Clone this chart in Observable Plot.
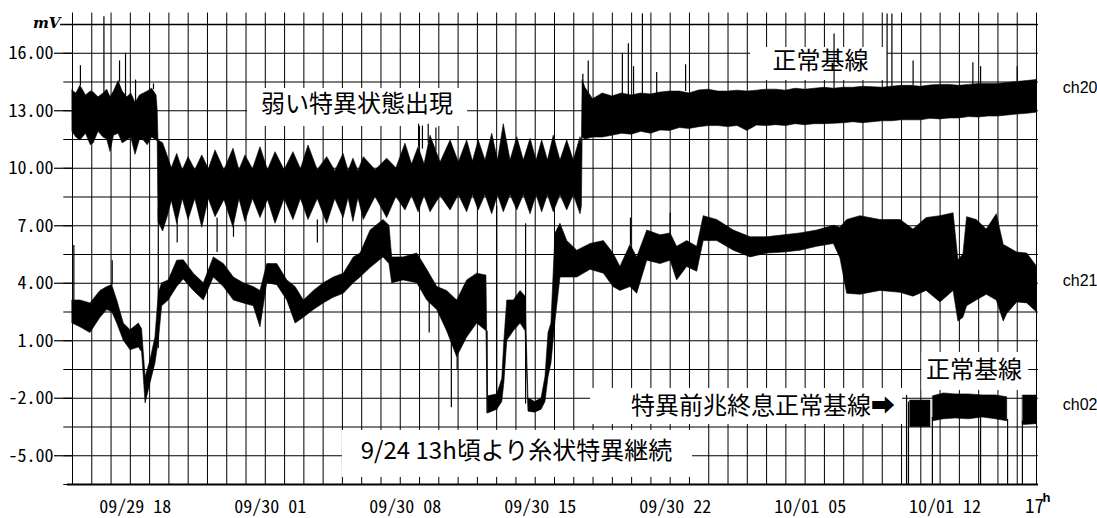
<!DOCTYPE html>
<html><head><meta charset="utf-8">
<script src="https://cdn.jsdelivr.net/npm/d3@7"></script>
<script src="https://cdn.jsdelivr.net/npm/@observablehq/plot@0.6"></script>
<style>
html,body{margin:0;padding:0;background:#fff;}
#chart svg{display:block;}
</style></head><body><div id="chart"></div>
<script>
// time in hours from 09/29 15:00 ; values in mV  [hour, low, high]
const ch20 = [
 [0,11.9,14.05],[0.2,11.6,13.9],[0.41,11.45,14.3],[0.7,11.8,13.8],[0.95,11.2,14.0],[1.1,11.3,13.95],
 [1.35,11.9,13.7],[1.61,11.6,13.9],[1.8,11.5,14.1],[1.97,10.85,13.7],[2.15,11.7,14.0],[2.39,11.8,14.55],
 [2.6,11.3,14.0],[2.84,11.45,13.7],[3.05,11.6,13.9],[3.27,10.7,13.4],[3.5,11.5,13.8],[3.7,11.45,13.9],
 [3.9,11.2,14.0],[4.13,11.6,14.15],[4.36,11.45,13.8],[4.42,11.4,13.0],
 [4.46,7.2,11.45],[4.7,6.7,11.3],[4.95,7.5,10.6],[5.15,8.3,10.0],
 [5.43,7.1,10.75],[5.72,8.4,9.9],[6.02,7.3,10.58],[6.37,8.4,9.9],[6.73,6.9,10.67],[7.07,8.4,9.95],
 [7.42,7.45,10.93],[7.88,8.35,9.9],[8.35,6.9,11.02],[8.66,8.4,9.9],[8.97,7.2,10.67],[9.36,8.4,9.95],
 [9.75,7.4,11.1],[10.14,8.35,9.9],[10.53,7.1,10.84],[11.0,8.4,9.9],[11.46,7.3,10.84],[11.85,8.4,9.95],
 [12.24,7.3,11.19],[12.72,8.4,9.9],[13.21,7.1,10.58],[13.63,8.4,9.85],[14.06,7.4,10.75],[14.32,8.45,9.85],
 [14.57,7.2,10.5],[14.83,8.45,9.85],[15.11,7.3,10.58],[15.72,8.5,9.9],[16.32,7.4,10.5],[16.8,8.5,10.0],
 [17.27,7.8,11.28],[17.61,8.55,10.2],[17.95,7.7,11.1],[18.26,8.55,10.2],[18.57,7.7,11.7],[19.09,8.55,10.3],
 [19.61,7.8,11.45],[20.04,8.6,10.3],[20.47,7.7,11.45],[20.77,8.6,10.35],[21.07,7.8,11.45],[21.42,8.6,10.4],
 [21.77,7.6,11.8],[22.07,8.6,10.4],[22.37,7.7,12.3],[22.72,8.6,10.4],[23.07,7.8,11.62],[23.41,8.6,10.4],
 [23.76,7.6,11.54],[24.07,8.6,10.4],[24.36,7.7,11.45],[24.66,8.6,10.4],[24.96,7.7,11.7],[25.31,8.6,10.4],
 [25.66,7.8,11.45],[26.0,8.6,10.4],[26.35,7.6,11.62],[26.42,8.0,11.2],
 [26.46,11.6,14.6],[26.6,11.5,14.2],[27,11.6,13.6],[27.5,11.6,13.9],[28,11.7,13.75],[28.5,11.8,13.9],
 [29,11.75,13.8],[29.5,11.9,13.9],[30,11.8,13.85],[30.5,11.97,13.95],[31,11.95,14.0],[31.5,12.1,14.0],
 [32,12.05,13.9],[32.5,12.14,14.06],[33,12.2,14.1],[33.5,12.2,14.0],[34,12.15,14.0],[34.5,12.2,14.05],
 [35,11.95,14.0],[35.5,12.23,14.05],[36,12.2,14.1],[36.5,12.25,14.1],[37,12.2,14.05],[37.5,12.3,14.15],
 [38,12.25,14.1],[38.5,12.3,14.15],[39,12.3,14.2],[39.5,12.32,14.15],[40,12.35,14.2],[40.5,12.4,14.2],
 [41,12.35,14.25],[41.5,12.4,14.23],[42,12.45,14.2],[42.5,12.45,14.25],[43,12.5,14.3],[43.5,12.5,14.3],
 [44,12.5,14.25],[44.5,12.58,14.32],[45,12.55,14.35],[45.5,12.6,14.35],[46,12.6,14.3],[46.5,12.67,14.35],
 [47,12.65,14.4],[47.5,12.7,14.4],[48,12.7,14.4],[48.5,12.75,14.45],[49,12.8,14.5],[49.5,12.84,14.55],[50,12.9,14.6]
];
const ch21 = [
 [0,1.9,3.1],[0.41,1.7,3.1],[0.93,1.4,2.95],[1.45,2.2,3.6],[1.8,2.6,3.8],[2.06,2.5,3.9],[2.32,1.9,3.1],
 [2.66,1.0,1.9],[3.01,0.5,1.55],[3.44,0.65,1.9],[3.61,0.4,1.6],[3.79,-2.27,-0.9],[4.05,-1.2,0.0],
 [4.3,-0.2,1.17],[4.48,1.0,3.5],[4.65,2.8,4.0],[4.99,3.1,4.15],[5.43,3.8,5.18],[5.77,4.2,5.2],
 [6.29,3.6,4.5],[6.81,3.1,4.0],[7.33,4.3,5.35],[7.85,3.8,5.0],[8.37,3.1,4.3],[8.88,2.95,4.0],
 [9.4,2.8,3.8],[9.75,1.7,3.6],[10.1,4.0,5.0],[10.62,3.9,5.0],[11.14,3.1,4.15],[11.57,1.9,3.8],
 [12.0,2.2,3.1],[12.52,2.6,3.6],[13.03,2.95,4.0],[13.55,3.25,4.3],[14.07,3.45,4.5],[14.59,4.0,5.35],
 [14.94,4.3,5.55],[15.46,4.8,6.75],[16.13,5.35,7.3],[16.44,5.0,7.0],[16.58,4.0,5.35],[17.17,4.15,5.35],
 [17.88,4.0,5.55],[18.4,3.1,4.7],[18.92,2.6,3.8],[19.43,1.5,3.6],[19.95,0.15,3.1],[20.47,1.17,4.15],
 [20.99,1.9,4.5],[21.47,1.5,4.4],[21.55,-2.8,-1.9],[22.03,-2.6,-1.8],[22.29,-2.2,-1.0],[22.4,-1.2,1.0],
 [22.55,1.0,3.1],[22.89,1.5,3.1],[23.24,1.9,3.6],[23.5,1.5,3.3],[23.65,-2.7,-2.0],[24.0,-2.75,-2.2],
 [24.33,-2.6,-2.0],[24.53,-2.2,-0.9],[24.69,-0.9,1.4],[24.84,-0.2,1.9],[25.05,2.0,6.6],[25.31,4.3,7.1],
 [25.66,4.3,6.2],[26.18,4.3,5.7],[26.87,4.7,6.05],[27.56,4.5,6.2],[28.06,3.8,5.55],[28.42,3.6,4.85],
 [28.94,3.8,6.0],[29.29,3.45,5.35],[29.81,5.18,6.75],[30.5,5.0,6.5],[31.02,5.18,6.6],[31.36,4.15,5.9],
 [31.88,4.85,6.2],[32.4,4.6,5.9],[32.74,6.2,7.5],[33.44,6.2,7.3],[34.3,5.7,6.75],[35.17,5.35,6.4],
 [36.03,5.55,6.4],[36.9,5.6,6.5],[37.76,5.7,6.6],[38.62,5.9,6.75],[39.49,6.05,7.0],[39.83,5.3,6.9],
 [40.18,3.45,7.3],[40.87,3.4,7.5],[41.9,3.6,7.3],[42.95,3.5,7.3],[43.62,3.3,6.8],[44.3,3.6,7.4],
 [45.02,3.0,7.5],[45.7,3.6,7.65],[45.95,2.0,5.2],[46.21,2.2,5.5],[46.4,2.8,7.45],[46.9,3.1,7.3],
 [47.42,3.4,6.8],[47.94,3.1,7.6],[48.3,2.0,6.0],[48.48,2.4,5.9],[49.0,3.0,5.6],[49.52,2.95,5.55],[50,2.5,4.9]
];
const ch02Block1 = [[43.46,-3.5,-2.12],[44.5,-3.5,-2.12]];
const ch02Block2 = [[44.64,-3.2,-1.9],[45.2,-3.1,-1.75],[45.8,-3.05,-1.8],[46.5,-3.1,-1.8],[47.2,-3.0,-1.85],[47.9,-3.1,-1.85],[48.48,-3.2,-1.95]];
const ch02Block3 = [[49.3,-3.4,-1.86],[50,-3.35,-1.86]];
// isolated spikes [hour, from, to]
const ch20Spikes = [
 [0.41,14.3,15.35],[1.63,13.9,17.9],[2.44,14.5,15.6],[2.75,13.7,16.0],[3.27,13.4,14.6],[4.2,14.1,14.4],
 [4.45,0.6,7.9],[5.43,6.1,7.3],[7.5,5.6,7.4],[8.35,6.4,7.0],[12.7,6.1,7.3],
 [17.95,11.1,12.3],[18.15,11.0,12.2],[18.45,11.3,12.3],[18.85,10.9,12.1],
 [26.47,13.9,14.9],[26.75,13.6,15.6],[28.52,13.9,16.0],[28.83,13.8,16.5],[29.1,13.8,15.3],[29.56,13.9,18.05],
 [30.3,13.9,15.0],[31.8,14.0,15.4],[39.5,14.15,17.0],[42.25,14.2,18.05],[42.5,14.25,18.05],[43.6,14.3,15.6],
 [46.7,14.35,15.5],[47.1,14.4,15.3],[49.0,14.5,15.3]
];
const ch21Spikes = [
 [0.07,3.1,5.97],[2.06,3.9,5.18],[18.5,1.4,4.0],[19.65,-2.5,3.0],[19.95,-0.5,0.5],[21.5,-2.8,1.5],
 [22.0,-2.6,8.0],[23.5,-2.3,7.1],[28.94,6.0,7.4],[31.0,6.6,7.65]
];
const ch02Spikes = [[43.26,-6.5,-1.85],[43.36,-6.5,-2.2],[44.6,-6.5,-3.0],[47.1,-6.5,-3.0],[48.5,-6.5,-3.1],[49.27,-6.5,-3.2]];

const yTicks = [16, 13, 10, 7, 4, 1, -2, -5];
const xTickHours = [3, 10, 17, 24, 31, 38, 45];
const xTickLabels = ["09/29 18", "09/30 01", "09/30 08", "09/30 15", "09/30 22", "10/01 05", "10/01 12"];
const channelNames = ["ch20", "ch21", "ch02"];
const noteTexts = ["弱い特異状態出現", "正常基線", "特異前兆終息正常基線➡", "正常基線", "9/24 13h頃より糸状特異継続"];

// layout (anchors in data units)
const channelLabelAt = [14.2, 4.1, -2.35];
const noteAt = [
 {h: 14.76, v: 13.33, box: [9.08, 20.49, 12.18, 14.16]},
 {h: 38.8, v: 15.57, box: [35.17, 42.27, 14.58, 16.3]},
 {h: 35.81, v: -2.43, box: [26.87, 43.05, -3.37, -1.49]},
 {h: 46.76, v: -0.55, box: [44.06, 49.6, -1.59, 0.39]},
 {h: 23.03, v: -4.77, box: [14.0, 32.16, -6.13, -3.68]}
];

const toRows = arr => arr.map(([h, lo, hi]) => ({h, lo, hi}));
const ch02Rows = [ch02Block1, ch02Block2, ch02Block3].flatMap((b, i) => b.map(([h, lo, hi]) => ({h, lo, hi, seg: i})));
const spikeRows = [...ch20Spikes, ...ch21Spikes, ...ch02Spikes].map(([h, a, b]) => ({h, a, b}));
const notes = noteTexts.map((t, i) => ({text: t, ...noteAt[i]}));
const mono = "'Noto Sans Mono CJK JP', 'DejaVu Sans Mono', monospace";
const jp = "'Noto Sans CJK JP', sans-serif";

const chart = Plot.plot({
  width: 1097, height: 518,
  marginLeft: 72, marginRight: 61, marginTop: 12.5, marginBottom: 34,
  x: {domain: [0, 50], axis: null},
  y: {domain: [-6.5, 18.1], axis: null},
  style: {background: "white", color: "black", fontFamily: jp},
  marks: [
    Plot.ruleY(d3.range(-6.5, 17.6, 1.5), {x1: -0.45, x2: 50.1, stroke: "black", strokeWidth: 1}),
    Plot.ruleY([17.5], {x1: -0.62, x2: 50.1, stroke: "black", strokeWidth: 1.3}),
    Plot.ruleX(d3.range(0, 51), {y1: -6.5, y2: 18.1, stroke: "black", strokeWidth: 1}),
    Plot.ruleY([-6.5], {x1: -0.26, x2: 50.1, stroke: "black", strokeWidth: 2}),
    Plot.rect(notes, {x1: d => d.box[0], x2: d => d.box[1], y1: d => d.box[2], y2: d => d.box[3], fill: "white"}),
    Plot.areaY(toRows(ch20), {x: "h", y1: "lo", y2: "hi", fill: "black", stroke: "black", strokeWidth: 0.6}),
    Plot.areaY(toRows(ch21), {x: "h", y1: "lo", y2: "hi", fill: "black", stroke: "black", strokeWidth: 0.6}),
    Plot.areaY(ch02Rows, {x: "h", y1: "lo", y2: "hi", z: "seg", fill: "black", stroke: "black", strokeWidth: 0.6}),
    Plot.ruleX(spikeRows, {x: "h", y1: "a", y2: "b", stroke: "black", strokeWidth: 1.2}),
    Plot.axisY(yTicks, {anchor: "left", tickSize: 18, tickPadding: 1, tickFormat: d => d.toFixed(2), fontSize: 18, fontFamily: mono, strokeWidth: 1.2}),
    Plot.text(["mV"], {x: 0, y: 17.5, dx: -12, dy: -1, textAnchor: "end", fontSize: 15, fontStyle: "italic", fontWeight: "bold", fontFamily: "'DejaVu Serif', serif"}),
    Plot.text(xTickHours, {x: d => d, y: -6.5, text: (d, i) => xTickLabels[i], dy: 23, dx: 5, fontSize: 18, fontFamily: mono}),
    Plot.text(["17"], {x: 50, y: -6.5, dy: 22, dx: -2, fontSize: 19, fontFamily: mono}),
    Plot.text(["h"], {x: 50, y: -6.5, dy: 13, dx: 10, fontSize: 13, fontWeight: "bold", fontFamily: "'Liberation Sans', sans-serif"}),
    Plot.text(channelNames, {x: 50, y: (d, i) => channelLabelAt[i], fontSize: 16, dx: 61, textAnchor: "end", fontFamily: "'Liberation Sans', Arial, sans-serif"}),
    Plot.text(notes, {x: "h", y: "v", text: "text", fontSize: 24, fontFamily: jp})
  ]
});
document.getElementById("chart").appendChild(chart);
</script>
</body></html>
